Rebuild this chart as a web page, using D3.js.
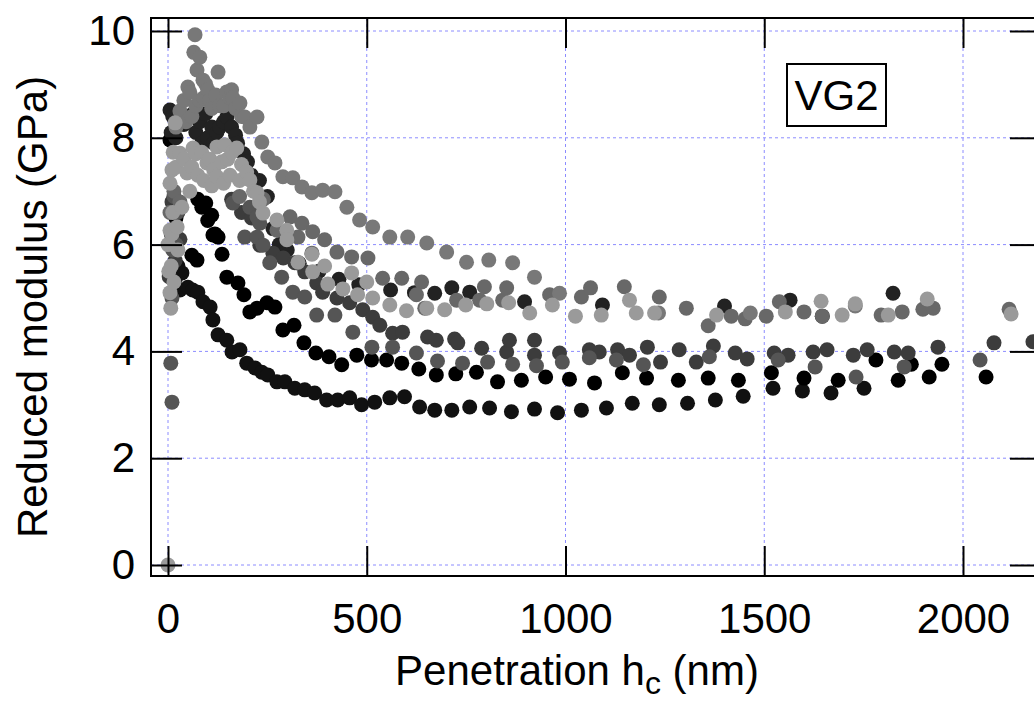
<!DOCTYPE html>
<html>
<head>
<meta charset="utf-8">
<script src="https://cdn.jsdelivr.net/npm/d3@7"></script>
<style>
  html, body { margin: 0; padding: 0; background: #fff; }
  svg { display: block; font-family: "Liberation Sans", Arial, sans-serif; }
</style>
</head>
<body>
<svg id="chart" width="1034" height="702"></svg>
<script>
// ---- data: [penetration hc (nm), reduced modulus (GPa)] ----
const xTicks = [0, 500, 1000, 1500, 2000];
const yTicks = [0, 2, 4, 6, 8, 10];
const xLabel = "Penetration h";
const xLabelSub = "c";
const xLabelTail = " (nm)";
const yLabel = "Reduced modulus (GPa)";
const sampleName = "VG2";

const series1 = [[12,5.5],[18,5.35],[25,5.6],[30,5.15],[35,5.47],[50,5.2],[62,5.15],[75,5.11],[88,4.93],[106,4.83],[113,4.59],[126,4.31],[148,4.21],[161,3.99],[181,4.03],[198,3.78],[219,3.69],[236,3.61],[251,3.56],[274,3.43],[294,3.43],[319,3.31],[344,3.28],[369,3.22],[399,3.09],[427,3.09],[457,3.13],[487,3.0],[520,3.05],[558,3.13],[595,3.15],[633,2.96],[671,2.90],[714,2.90],[759,2.96],[809,2.94],[864,2.87],[922,2.92],[980,2.85],[1040,2.90],[1103,2.94],[1168,3.03],[1236,3.0],[1307,3.03],[1377,3.09],[1447,3.16],[1522,3.31],[1596,3.26],[1668,3.22],[1751,3.31]];

const series2 = [[5,7.96],[20,6.5],[60,5.8],[73,5.71],[75,6.85],[85,6.7],[95,6.78],[100,6.45],[110,6.55],[113,6.18],[118,6.2],[126,6.14],[136,5.82],[148,5.39],[176,5.28],[191,5.06],[206,4.74],[224,4.81],[249,4.91],[269,4.83],[289,4.40],[317,4.49],[342,4.16],[372,3.97],[405,3.9],[437,3.75],[475,3.93],[512,3.84],[550,3.84],[588,3.78],[631,3.67],[675,3.56],[724,3.58],[776,3.61],[829,3.43],[889,3.46],[950,3.52],[1010,3.48],[1073,3.41],[1143,3.6],[1204,3.5],[1284,3.46],[1359,3.5],[1435,3.46],[1518,3.6],[1600,3.5],[1686,3.46],[1781,3.84],[1837,3.46],[1870,3.76],[1915,3.52],[1947,3.76],[2058,3.52]];

const series3 = [[5,8.52],[12,8.4],[8,8.1],[20,8.0],[40,8.25],[63,8.45],[70,8.1],[80,8.3],[85,7.9],[95,8.45],[100,8.0],[110,8.2],[115,7.9],[123,8.1],[130,8.2],[140,8.3],[148,8.39],[160,8.2],[170,8.05],[175,7.9],[190,7.7],[200,7.55],[210,7.3],[230,7.2],[250,6.9],[264,6.3],[280,6.0],[300,5.9],[330,5.65],[380,5.5],[430,5.35],[480,5.25],[560,5.15],[620,5.1],[671,5.09],[714,5.19],[759,5.11],[897,4.93],[1093,4.87],[1400,4.85],[1565,4.96],[1646,4.66],[1824,5.09]];

const series4 = [[10,6.8],[15,6.3],[25,6.6],[3,5.4],[18,5.7],[30,6.1],[160,6.85],[185,6.6],[210,6.5],[231,5.99],[264,5.84],[290,5.75],[319,5.66],[344,5.49],[374,5.28],[389,5.11],[425,5.0],[457,4.91],[490,4.78],[515,4.64],[533,4.49],[565,4.34],[590,4.36],[653,4.27],[675,4.21],[721,4.23],[729,4.16],[789,4.06],[852,3.99],[859,4.21],[922,4.21],[922,3.93],[985,3.97],[1060,4.03],[1085,3.99],[1131,4.03],[1161,3.93],[1206,4.08],[1239,3.80],[1286,4.03],[1329,3.80],[1372,4.1],[1427,3.97],[1457,3.86],[1525,3.97],[1560,3.93],[1623,3.99],[1658,4.03],[1724,3.93],[1759,4.03],[1827,3.99],[1862,3.97],[1937,4.08],[2078,4.16],[2176,4.18]];

const series5 = [[8,6.2],[12,5.9],[20,6.0],[10,5.0],[15,6.9],[22,6.6],[7,3.78],[10,3.05],[163,6.78],[206,6.7],[224,6.52],[231,6.4],[193,6.14],[224,6.14],[239,5.99],[256,5.66],[286,5.39],[314,5.11],[344,5.02],[374,4.68],[420,4.68],[465,4.36],[513,4.08],[565,4.08],[625,3.97],[678,3.82],[741,3.78],[804,3.8],[867,3.76],[927,3.73],[992,3.8],[1060,3.88],[1128,3.84],[1196,3.75],[1362,3.9],[1535,3.84],[1628,3.71],[1731,3.52],[1852,3.71],[2043,3.84]];

const series6 = [[5,6.6],[15,7.0],[30,6.8],[180,6.9],[240,6.85],[274,6.27],[307,6.52],[327,6.14],[337,6.4],[364,6.24],[394,6.09],[362,5.84],[425,5.86],[462,5.77],[503,5.75],[540,5.37],[588,5.37],[638,5.3],[625,5.06],[646,4.81],[726,4.96],[784,4.96],[796,5.21],[842,4.96],[852,5.19],[960,5.06],[1040,5.02],[1063,5.19],[1148,5.21],[1236,5.02],[1304,4.81],[1359,4.48],[1417,4.66],[1452,4.61],[1505,4.66],[1538,4.93],[1600,4.74],[1646,4.66],[1794,4.68],[1847,4.74],[1899,4.79],[1925,4.81],[2116,4.79]];

const series7 = [[20,8.2],[30,8.5],[40,8.7],[45,8.3],[50,8.95],[55,8.85],[60,8.4],[65,9.6],[70,8.6],[68,9.93],[73,9.27],[80,9.51],[80,8.7],[88,9.08],[90,8.75],[95,9.0],[100,8.9],[105,8.7],[110,8.55],[120,8.8],[126,9.23],[130,8.6],[140,8.6],[148,8.86],[155,8.75],[160,8.9],[163,8.75],[170,8.55],[181,8.65],[185,8.4],[193,8.39],[206,8.2],[224,8.39],[236,7.92],[251,7.64],[269,7.53],[289,7.27],[314,7.25],[337,7.08],[362,6.97],[389,7.02],[420,6.99],[450,6.7],[482,6.46],[515,6.33],[558,6.14],[603,6.14],[651,6.03],[701,5.86],[751,5.67],[807,5.71],[867,5.66],[922,5.39],[985,5.09],[1234,4.72],[1465,4.72],[1729,4.85]];

const series8 = [[0,0],[7,4.81],[5,5.1],[15,5.3],[2,5.5],[8,5.6],[25,5.9],[0,6.0],[5,6.27],[10,6.2],[23,6.33],[12,6.6],[35,6.7],[55,7.0],[5,7.15],[10,7.4],[13,7.73],[18,8.28],[20,7.45],[30,7.71],[40,7.6],[48,7.34],[60,7.45],[63,7.81],[70,7.7],[75,7.3],[85,7.73],[90,7.2],[98,7.53],[105,7.6],[110,7.1],[115,7.4],[123,7.83],[123,7.27],[135,7.55],[140,7.15],[143,7.87],[150,7.6],[156,7.3],[161,7.73],[173,7.81],[180,7.2],[185,7.5],[198,7.36],[206,7.21],[215,7.0],[224,6.97],[230,6.8],[239,6.59],[274,6.46],[299,6.27],[299,6.09],[327,5.67],[362,5.82],[364,5.49],[394,5.6],[402,5.26],[440,5.17],[462,5.47],[477,5.06],[500,5.3],[515,5.0],[558,4.87],[600,4.76],[651,4.81],[696,4.78],[749,4.87],[802,4.89],[857,4.91],[910,4.72],[967,4.87],[1025,4.66],[1090,4.68],[1161,4.96],[1178,4.72],[1224,4.72],[1380,4.68],[1553,4.74],[1643,4.94],[1696,4.68],[1729,4.89],[1812,4.68],[1910,4.98],[2121,4.7]];

const seriesList = [series1, series2, series3, series4, series5, series6, series7, series8];
const seriesColors = ["#111111", "#000000", "#222222", "#3c3c3c", "#555555", "#686868", "#787878", "#9a9a9a"];

// ---- layout ----
const frame = { left: 151, top: 18, right: 1040, bottom: 576 };
const svg = d3.select("#chart");

const x = d3.scaleLinear().domain([0, 2000]).range([168, 963]);
const y = d3.scaleLinear().domain([0, 10]).range([565, 31]);

// grid
const grid = svg.append("g").attr("class", "grid")
  .attr("stroke", "#8c8cff").attr("stroke-width", 1).attr("stroke-dasharray", "3,3");
grid.selectAll("line.gx").data(xTicks).join("line")
  .attr("x1", d => x(d)).attr("x2", d => x(d))
  .attr("y1", frame.top).attr("y2", frame.bottom);
grid.selectAll("line.gy").data(yTicks).join("line")
  .attr("y1", d => y(d)).attr("y2", d => y(d))
  .attr("x1", frame.left).attr("x2", frame.right);

// points
svg.append("clipPath").attr("id", "clip").append("rect")
  .attr("x", frame.left).attr("y", frame.top)
  .attr("width", frame.right - frame.left).attr("height", frame.bottom - frame.top);
const pts = svg.append("g").attr("clip-path", "url(#clip)");
seriesList.forEach((s, i) => {
  pts.append("g").attr("fill", seriesColors[i])
    .selectAll("circle").data(s).join("circle")
    .attr("cx", d => x(d[0])).attr("cy", d => y(d[1])).attr("r", 7.5);
});

// axes
function styleAxis(g) {
  g.select(".domain").remove();
  g.selectAll(".tick line").attr("stroke", "#000").attr("stroke-width", 2);
  g.selectAll(".tick text").attr("font-size", 42).attr("fill", "#000")
    .attr("font-family", "'Liberation Sans', Arial, sans-serif");
}
svg.append("g").attr("transform", `translate(0,${frame.bottom})`)
  .call(d3.axisBottom(x).tickValues(xTicks).tickSizeInner(-30).tickSizeOuter(0).tickPadding(27).tickFormat(d3.format("d")))
  .call(styleAxis);
svg.append("g").attr("transform", `translate(0,${frame.top})`)
  .call(d3.axisTop(x).tickValues(xTicks).tickSizeInner(-30).tickSizeOuter(0).tickFormat(""))
  .call(styleAxis);
svg.append("g").attr("transform", `translate(${frame.left},0)`)
  .call(d3.axisLeft(y).tickValues(yTicks).tickSizeInner(-31).tickSizeOuter(0).tickPadding(16).tickFormat(d3.format("d")))
  .call(styleAxis);
svg.append("g").attr("transform", `translate(${frame.right},0)`)
  .call(d3.axisRight(y).tickValues(yTicks).tickSizeInner(-30).tickSizeOuter(0).tickFormat(""))
  .call(styleAxis);

// frame
svg.append("rect")
  .attr("x", frame.left).attr("y", frame.top)
  .attr("width", frame.right - frame.left).attr("height", frame.bottom - frame.top)
  .attr("fill", "none").attr("stroke", "#000").attr("stroke-width", 2);

// axis titles
const xt = svg.append("text").attr("x", 577).attr("y", 685)
  .attr("text-anchor", "middle").attr("font-size", 42).attr("fill", "#000");
xt.append("tspan").text(xLabel);
xt.append("tspan").attr("font-size", 32).attr("dy", 9).text(xLabelSub);
xt.append("tspan").attr("dy", -9).text(xLabelTail);

svg.append("text").attr("transform", "translate(47,307) rotate(-90)")
  .attr("text-anchor", "middle").attr("font-size", 42).attr("fill", "#000")
  .text(yLabel);

// sample label box
svg.append("rect").attr("x", 787).attr("y", 64).attr("width", 99).attr("height", 62)
  .attr("fill", "#fff").attr("stroke", "#000").attr("stroke-width", 2);
svg.append("text").attr("x", 836.5).attr("y", 110).attr("text-anchor", "middle")
  .attr("font-size", 42).attr("fill", "#000").text(sampleName);
</script>
</body>
</html>
